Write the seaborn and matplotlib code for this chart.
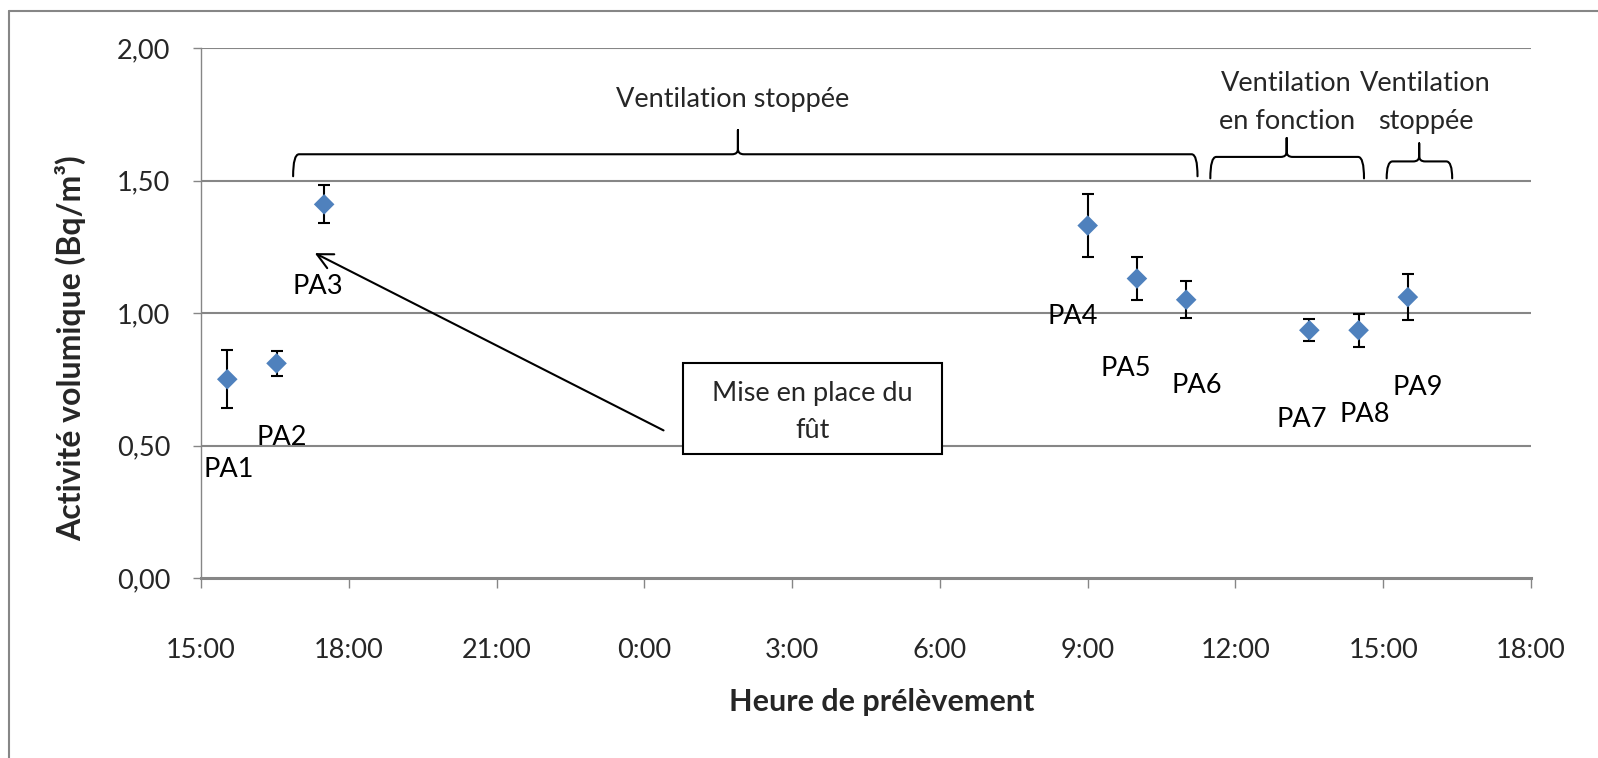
import numpy as np
import pandas as pd
import matplotlib
matplotlib.use("Agg")
import matplotlib.pyplot as plt
import matplotlib.dates as mdates
from matplotlib.path import Path
from matplotlib.patches import PathPatch, Rectangle
from matplotlib.lines import Line2D
import seaborn as sns

# ---------------- data ----------------
labels = ["PA1", "PA2", "PA3", "PA4", "PA5", "PA6", "PA7", "PA8", "PA9"]
times = ["2010-06-01 15:32", "2010-06-01 16:32", "2010-06-01 17:30",
         "2010-06-02 09:00", "2010-06-02 10:00", "2010-06-02 11:00",
         "2010-06-02 13:30", "2010-06-02 14:30", "2010-06-02 15:30"]
activity = [0.75, 0.81, 1.41, 1.33, 1.13, 1.05, 0.935, 0.935, 1.06]
uncertainty = [0.11, 0.047, 0.072, 0.12, 0.08, 0.07, 0.042, 0.062, 0.088]
y_ticks = [0.0, 0.5, 1.0, 1.5, 2.0]
y_tick_labels = ["0,00", "0,50", "1,00", "1,50", "2,00"]
x_start = "2010-06-01 15:00"
x_end = "2010-06-02 18:00"

# label positions (hours after x_start, y)
label_pos = [(0.56, 0.41), (1.64, 0.53), (2.38, 1.10), (17.70, 0.985), (18.78, 0.79),
             (20.21, 0.727), (22.35, 0.598), (23.63, 0.617), (24.71, 0.717)]

df = pd.DataFrame({"label": labels, "time": pd.to_datetime(times),
                   "activity": activity, "err": uncertainty})

sns.set_theme(style="white")
plt.rcParams["font.family"] = ["Lato", "DejaVu Sans"]

FS = 19.5

fig = plt.figure(figsize=(15.98, 7.58), dpi=100)
ax = fig.add_axes([201 / 1598, 1 - 578 / 758, (1531 - 201) / 1598, (578 - 48) / 758])

base = pd.Timestamp(x_start)


def hx(h):
    return mdates.date2num(base + pd.Timedelta(hours=h))


grid_c = "#868686"
ax.set_ylim(0, 2.0)
ax.set_xlim(mdates.date2num(pd.Timestamp(x_start)), mdates.date2num(pd.Timestamp(x_end)))
ax.set_yticks(y_ticks)
ax.set_yticklabels(y_tick_labels)
for y in y_ticks[1:]:
    ax.axhline(y, color=grid_c, lw=1.5, zorder=0)

ax.errorbar(df["time"], df["activity"], yerr=df["err"], fmt="none", ecolor="black",
            elinewidth=1.5, capsize=4, capthick=1.5, zorder=3)
sns.scatterplot(data=df, x="time", y="activity", marker="D", s=110, color="#4F81BD",
                edgecolor="none", linewidth=0, ax=ax, zorder=4)

for lab, (h, y) in zip(labels, label_pos):
    ax.text(hx(h), y, lab, ha="center", va="center", fontsize=FS, color="black")

ax.xaxis.set_major_locator(mdates.HourLocator(byhour=range(0, 24, 3)))
ax.xaxis.set_major_formatter(mdates.DateFormatter("%-H:%M"))

for s in ["top", "right"]:
    ax.spines[s].set_visible(False)
ax.spines["left"].set_color(grid_c)
ax.spines["left"].set_linewidth(1.0)
ax.spines["bottom"].set_color(grid_c)
ax.spines["bottom"].set_linewidth(2.2)
ax.tick_params(axis="x", which="major", direction="out", length=7, width=1, color=grid_c,
               labelsize=FS, pad=36, bottom=True)
ax.tick_params(axis="y", which="major", direction="out", length=6, width=1, color=grid_c,
               labelsize=FS, pad=16, left=True)

ax.set_xlabel("Heure de prélèvement", fontsize=22, fontweight="bold")
ax.set_ylabel("Activité volumique (Bq/m³)", fontsize=23, fontweight="bold")
ax.xaxis.set_label_coords(0.512, -0.207)
ax.yaxis.set_label_coords(-0.086, 0.433)


def brace(h0, h1, hm, y_low, y_line, y_tip, d=0.12):
    x0, x1, xm = hx(h0), hx(h1), hx(hm)
    dd = hx(d) - hx(0)
    small = 0.02
    verts = [(x0, y_low), (x0, y_line), (x0 + dd, y_line),
             (xm - dd, y_line), (xm, y_line), (xm, y_line + small),
             (xm, y_tip), (xm, y_line + small), (xm, y_line), (xm + dd, y_line),
             (x1 - dd, y_line), (x1, y_line), (x1, y_low)]
    codes = [Path.MOVETO, Path.CURVE3, Path.CURVE3,
             Path.LINETO, Path.CURVE3, Path.CURVE3,
             Path.LINETO, Path.LINETO, Path.CURVE3, Path.CURVE3,
             Path.LINETO, Path.CURVE3, Path.CURVE3]
    ax.add_patch(PathPatch(Path(verts, codes), fill=False, lw=1.5, color="black",
                           capstyle="round", joinstyle="round", clip_on=False))


brace(1.87, 20.23, 10.9, 1.516, 1.599, 1.69)
brace(20.49, 23.61, 22.04, 1.508, 1.589, 1.66)
brace(24.07, 25.40, 24.73, 1.508, 1.572, 1.64)

ax.text(hx(10.8), 1.806, "Ventilation stoppée", ha="center", va="center", fontsize=FS)
ax.text(hx(22.04), 1.795, "Ventilation\nen fonction", ha="center", va="center",
        fontsize=FS, linespacing=1.62)
ax.text(hx(24.86), 1.795, "Ventilation\nstoppée", ha="center", va="center",
        fontsize=FS, linespacing=1.62)

# annotation box
bw, bh = 5.25, 0.343
bcx, bcy = 12.41, 0.641
ax.add_patch(Rectangle((hx(bcx - bw / 2), bcy - bh / 2), hx(bw) - hx(0), bh,
                       facecolor="white", edgecolor="black", lw=1.5, zorder=5))
ax.text(hx(bcx), bcy - 0.015, "Mise en place du\nfût", ha="center", va="center", fontsize=FS,
        linespacing=1.62, zorder=6)
ax.annotate("", xy=(hx(2.31), 1.226), xytext=(hx(9.39), 0.557),
            arrowprops=dict(arrowstyle="->", lw=1.5, color="black", mutation_scale=28,
                            shrinkA=0, shrinkB=0), zorder=6)

# outer chart border
fig.add_artist(Line2D([9 / 1598, 9 / 1598], [0, 1 - 11 / 758], transform=fig.transFigure,
                      color=grid_c, lw=1.5))
fig.add_artist(Line2D([9 / 1598, 1], [1 - 11 / 758, 1 - 11 / 758], transform=fig.transFigure,
                      color=grid_c, lw=1.5))

fig.savefig("out.png", dpi=100)
